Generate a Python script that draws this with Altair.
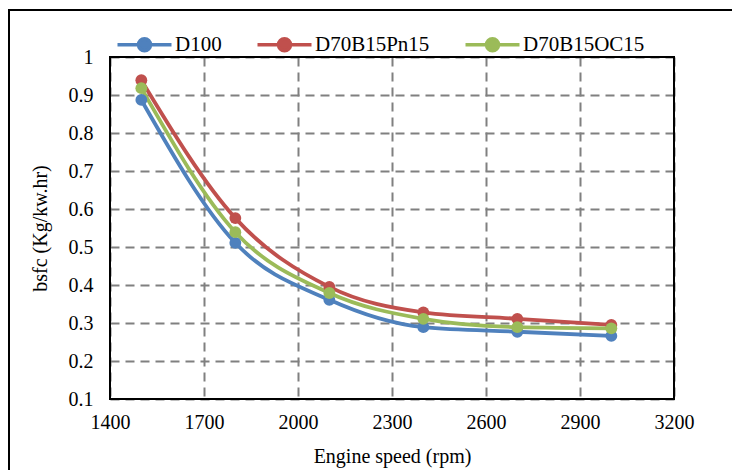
import altair as alt
import pandas as pd

# ---- data ----
speeds = [1500, 1800, 2100, 2400, 2700, 3000]
d100 = [0.887, 0.511, 0.361, 0.289, 0.277, 0.266]
pn15 = [0.939, 0.576, 0.395, 0.328, 0.311, 0.295]
oc15 = [0.918, 0.539, 0.379, 0.311, 0.289, 0.286]
series_names = ["D100", "D70B15Pn15", "D70B15OC15"]
series_colors = ["#4F81BD", "#C0504D", "#9BBB59"]
x_ticks = [1400, 1700, 2000, 2300, 2600, 2900, 3200]
y_ticks = [0.1, 0.2, 0.3, 0.4, 0.5, 0.6, 0.7, 0.8, 0.9, 1.0]

rows = []
for name, vals in zip(series_names, [d100, pn15, oc15]):
    for s, v in zip(speeds, vals):
        rows.append({"speed": s, "bsfc": v, "fuel": name})
df = pd.DataFrame(rows)

FONT = "Liberation Serif"
W, H = 564, 342

legend_path = "M-4.5,0L4.5,0M-1,0A1,1,0,1,0,1,0A1,1,0,1,0,-1,0Z"

x_enc = alt.X(
    "speed:Q",
    scale=alt.Scale(domain=[x_ticks[0], x_ticks[-1]], nice=False, zero=False),
    axis=alt.Axis(values=x_ticks, tickCount=len(x_ticks), title="Engine speed (rpm)",
                  format="d", grid=True, ticks=False, domain=False, labelPadding=13,
                  titlePadding=14, labelOverlap=False, labelFlush=False),
)
y_enc = alt.Y(
    "bsfc:Q",
    scale=alt.Scale(domain=[y_ticks[0], y_ticks[-1]], nice=False, zero=False),
    axis=alt.Axis(values=y_ticks, tickCount=len(y_ticks), title="bsfc (Kg/kw.hr)",
                  format="~g", grid=True, ticks=False, domain=False, labelPadding=17,
                  titlePadding=18, labelOverlap=False, labelFlush=False),
)

lines = alt.Chart(df).mark_line(
    interpolate="monotone", strokeWidth=3.8,
    point=alt.OverlayMarkDef(filled=True, size=140, opacity=1),
).encode(
    x=x_enc,
    y=y_enc,
    color=alt.Color(
        "fuel:N",
        sort=series_names,
        scale=alt.Scale(domain=series_names, range=series_colors),
        legend=alt.Legend(
            title=None, orient="none", legendX=24, legendY=-23,
            direction="horizontal", columns=3,
            symbolType=legend_path, symbolSize=144, symbolStrokeWidth=3.5,
            labelOffset=20, columnPadding=28, padding=0,
            labelFont=FONT, labelFontSize=21, labelColor="black",
            labelLimit=400,
        ),
    ),
)

frame = alt.Chart(df).mark_rect(fill=None, stroke="black", strokeWidth=2).encode(
    x=alt.X(datum=x_ticks[0]), x2=alt.X2(datum=x_ticks[-1]),
    y=alt.Y(datum=y_ticks[0]), y2=alt.Y2(datum=y_ticks[-1]),
)

outer = alt.Chart(df).mark_rect(fill=None, stroke="black", strokeWidth=2).encode(
    x=alt.value(-101), x2=alt.value(700), y=alt.value(-47), y2=alt.value(500),
)

chart = alt.layer(lines, frame, outer).properties(
    width=W, height=H,
    autosize=alt.AutoSizeParams(type="none"),
    padding={"left": 110, "top": 57, "right": 58, "bottom": 71},
).configure_view(stroke=None).configure_axis(
    labelFont=FONT, labelFontSize=20, labelColor="black",
    titleFont=FONT, titleFontSize=20, titleColor="black", titleFontWeight="normal",
    gridColor="#808080", gridWidth=2, gridDash=[9, 6], gridOpacity=1,
)

chart.save("out.html", embed_options={"renderer": "svg", "actions": False})
